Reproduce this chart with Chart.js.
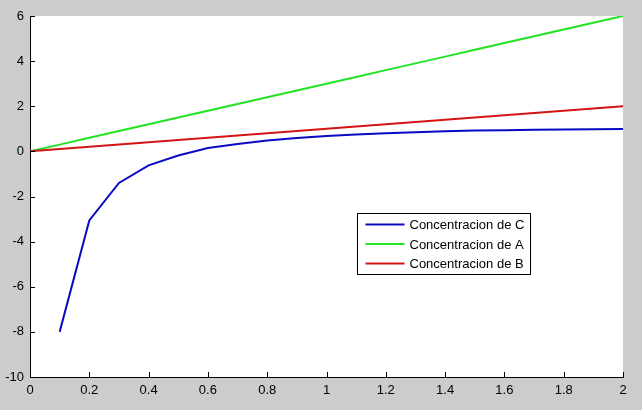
<!DOCTYPE html>
<html>
<head>
<meta charset="utf-8">
<script src="https://cdn.jsdelivr.net/npm/chart.js@4"></script>
<style>
  html, body { margin: 0; padding: 0; background: #cccccc; }
  #wrap { width: 642px; height: 410px; }
</style>
</head>
<body>
<div id="wrap"><canvas id="c" width="642" height="410"></canvas></div>
<script>
// values
const xAB = [0, 0.1, 0.2, 0.3, 0.4, 0.5, 0.6, 0.7, 0.8, 0.9, 1.0, 1.1, 1.2, 1.3, 1.4, 1.5, 1.6, 1.7, 1.8, 1.9, 2.0];
const concA = [0, 0.3, 0.6, 0.9, 1.2, 1.5, 1.8, 2.1, 2.4, 2.7, 3.0, 3.3, 3.6, 3.9, 4.2, 4.5, 4.8, 5.1, 5.4, 5.7, 6.0];
const concB = [0, 0.1, 0.2, 0.3, 0.4, 0.5, 0.6, 0.7, 0.8, 0.9, 1.0, 1.1, 1.2, 1.3, 1.4, 1.5, 1.6, 1.7, 1.8, 1.9, 2.0];
const xC = [0.1, 0.2, 0.3, 0.4, 0.5, 0.6, 0.7, 0.8, 0.9, 1.0, 1.1, 1.2, 1.3, 1.4, 1.5, 1.6, 1.7, 1.8, 1.9, 2.0];
const concC = [-8, -3.06, -1.4, -0.62, -0.18, 0.15, 0.33, 0.48, 0.59, 0.68, 0.75, 0.8, 0.85, 0.89, 0.92, 0.94, 0.96, 0.97, 0.98, 0.99];
const labels = ["Concentracion de C", "Concentracion de A", "Concentracion de B"];
const colors = ["#0a0ac4", "#22e422", "#d41414"];

const pts = (xs, ys) => xs.map((x, i) => ({ x, y: ys[i] }));
const FONT = { family: "Arial, 'Liberation Sans', sans-serif", size: 13 };

// white axes background
const plotBg = {
  id: "plotBg",
  beforeDraw(chart) {
    const { ctx, chartArea: a } = chart;
    ctx.save();
    ctx.fillStyle = "#fff";
    ctx.fillRect(a.left, a.top, a.right - a.left, a.bottom - a.top);
    ctx.restore();
  }
};

// MATLAB style inward ticks
const innerTicks = {
  id: "innerTicks",
  afterDraw(chart) {
    const { ctx, chartArea: a, scales: { x, y } } = chart;
    const len = 5;
    ctx.save();
    ctx.strokeStyle = "#000";
    ctx.lineWidth = 1;
    ctx.beginPath();
    x.ticks.forEach(t => {
      const px = Math.round(x.getPixelForValue(t.value)) + 0.5;
      ctx.moveTo(px, a.bottom);
      ctx.lineTo(px, a.bottom - len);
    });
    y.ticks.forEach(t => {
      const py = Math.round(y.getPixelForValue(t.value)) + 0.5;
      ctx.moveTo(a.left, py);
      ctx.lineTo(a.left + len, py);
    });
    ctx.stroke();
    ctx.restore();
  }
};

// legend box placed inside the axes like the original
const legendBox = {
  id: "legendBox",
  afterDraw(chart) {
    const { ctx, chartArea: a } = chart;
    const w = a.right - a.left, h = a.bottom - a.top;
    const bx = Math.round(a.left + w * 0.551) + 0.5;
    const by = Math.round(a.top + h * 0.545) + 0.5;
    const bw = 173, bh = 61, rowH = 19.5;
    ctx.save();
    ctx.fillStyle = "#fff";
    ctx.fillRect(bx, by, bw, bh);
    ctx.strokeStyle = "#000";
    ctx.lineWidth = 1;
    ctx.strokeRect(bx, by, bw, bh);
    ctx.font = `13px ${FONT.family}`;
    ctx.textBaseline = "middle";
    labels.forEach((lab, i) => {
      const cy = by + 11 + i * rowH;
      ctx.strokeStyle = colors[i];
      ctx.lineWidth = 2;
      ctx.beginPath();
      ctx.moveTo(bx + 8, cy);
      ctx.lineTo(bx + 47, cy);
      ctx.stroke();
      ctx.fillStyle = "#000";
      ctx.fillText(lab, bx + 52, cy + 1);
    });
    ctx.restore();
  }
};

new Chart(document.getElementById("c").getContext("2d"), {
  type: "line",
  data: {
    datasets: [
      { label: labels[0], data: pts(xC, concC), borderColor: colors[0], order: 0 },
      { label: labels[1], data: pts(xAB, concA), borderColor: colors[1], order: 2 },
      { label: labels[2], data: pts(xAB, concB), borderColor: colors[2], order: 1 }
    ]
  },
  options: {
    responsive: false,
    animation: false,
    elements: { point: { radius: 0 }, line: { borderWidth: 2, tension: 0, fill: false } },
    layout: { padding: { left: 0, top: 16, right: 19, bottom: 0 } },
    plugins: { legend: { display: false }, tooltip: { enabled: false } },
    scales: {
      x: {
        type: "linear", min: 0, max: 2,
        grid: { display: false, drawTicks: false },
        border: { display: true, color: "#000", width: 1 },
        ticks: {
          stepSize: 0.2, color: "#000", font: FONT, padding: 6, maxRotation: 0,
          callback: v => String(Number(v.toFixed(1)))
        },
        afterFit: s => { s.height = 33; }
      },
      y: {
        type: "linear", min: -10, max: 6,
        grid: { display: false, drawTicks: false },
        border: { display: true, color: "#000", width: 1 },
        ticks: { stepSize: 2, color: "#000", font: FONT, padding: 6 },
        afterFit: s => { s.width = 30; }
      }
    }
  },
  plugins: [plotBg, innerTicks, legendBox]
});
</script>
</body>
</html>
